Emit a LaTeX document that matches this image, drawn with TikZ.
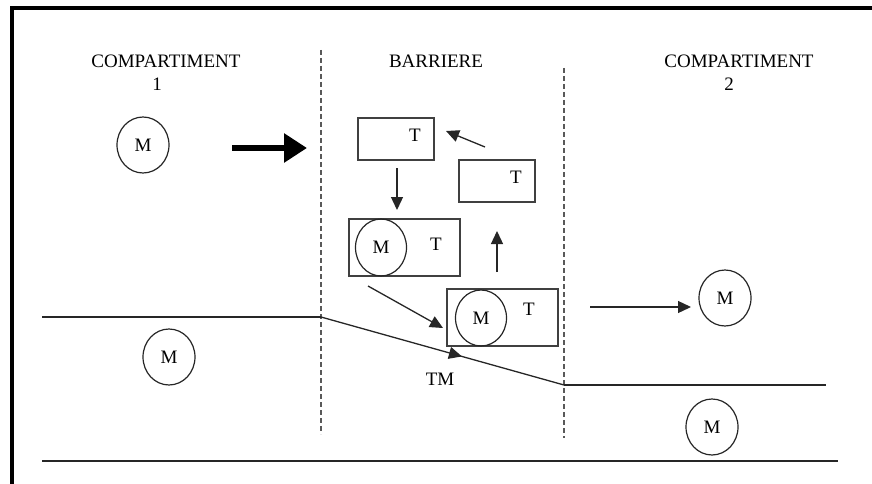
\documentclass[tikz,border=0pt]{standalone}
\usepackage{fontspec}
\setmainfont{Liberation Serif}
\usetikzlibrary{arrows.meta,shapes.geometric,decorations.markings}
\begin{document}
\begin{tikzpicture}[x=1pt,y=-1pt,
  every node/.style={font=\fontsize{19}{21}\selectfont, text=black},
  lbl/.style={anchor=base, inner sep=0pt},
  molc/.style={ellipse, draw=black!85, line width=1.2pt, minimum width=52pt, minimum height=56pt, inner sep=0pt},
  tbox/.style={rectangle, draw=black!75, line width=1.3pt, inner sep=0pt},
  thin/.style={draw=black!85, line width=1.3pt},
  arr/.style={thin, -{Triangle[length=13pt,width=12pt]}},
  sep/.style={draw=black!65, line width=1.3pt, dash pattern=on 5pt off 3pt},
  border/.style={draw=black, line width=3.5pt}
]
\useasboundingbox (0,0) rectangle (872,484);
% page border (left and top)
\draw[border] (12,484) -- (12,8) -- (872,8);
% separators
\draw[sep] (321,50) -- (321,434);
\draw[sep] (564,68) -- (564,438);
% titles
\node[lbl] (c1a) at (166,68) {COMPARTIMENT};
\node[lbl] (c1b) at (157,91) {1};
\node[lbl] (bar) at (436,68) {BARRIERE};
\node[lbl] (c2a) at (739,68) {COMPARTIMENT};
\node[lbl] (c2b) at (729,91) {2};
% molecules in compartments
\node[molc] (m1) at (143,145) {M};
\node[molc] (m2) at (169,357) {M};
\node[molc] (m3) at (725,298) {M};
\node[molc] (m4) at (712,427) {M};
% transporter boxes
\node[tbox, minimum width=76pt, minimum height=42pt] (t1) at (396,139) {};
\node[lbl] (t1t) at (415,142) {T};
\node[tbox, minimum width=76pt, minimum height=42pt] (t2) at (497,181) {};
\node[lbl] (t2t) at (516,183) {T};
\node[tbox, minimum width=111pt, minimum height=57pt] (mt1) at (404.5,247.5) {};
\node[molc, minimum width=51pt, minimum height=57pt] (mt1m) at (381,247.5) {M};
\node[lbl] (mt1t) at (436,250) {T};
\node[tbox, minimum width=111pt, minimum height=57pt] (mt2) at (502.5,317.5) {};
\node[molc, minimum width=51pt, minimum height=56pt] (mt2m) at (481,318) {M};
\node[lbl] (mt2t) at (529,315) {T};
\node[lbl] (tm) at (440,385) {TM};
% arrow end points
\coordinate (a0s) at (232,148); \coordinate (a0e) at (307,148);
\coordinate (a1s) at (485,147); \coordinate (a1e) at (446,131);
\coordinate (a2s) at (397,168); \coordinate (a2e) at (397,210);
\coordinate (a3s) at (497,272); \coordinate (a3e) at (497,231);
\coordinate (a4s) at (368,286); \coordinate (a4e) at (443,328);
\coordinate (a5s) at (590,307); \coordinate (a5e) at (691,307);
% arrows
\draw[draw=black, line width=6pt, -{Triangle[length=23pt,width=28pt]}] (a0s) -- (a0e);
\draw[arr] (a1s) -- (a1e);
\draw[arr] (a2s) -- (a2e);
\draw[arr] (a3s) -- (a3e);
\draw[arr] (a4s) -- (a4e);
\draw[arr] (a5s) -- (a5e);
% membrane lines
\coordinate (p1) at (42,317); \coordinate (p2) at (321,317);
\coordinate (p3) at (564,385); \coordinate (p4) at (826,385);
\draw[thin] (p1) -- (p2);
\draw[thin, postaction={decorate}, decoration={markings, mark=at position 0.58 with {\arrow{Triangle[length=13pt,width=12pt]}}}] (p2) -- (p3);
\draw[thin] (p3) -- (p4);
\coordinate (b1) at (42,461); \coordinate (b2) at (838,461);
\draw[thin] (b1) -- (b2);
\end{tikzpicture}
\end{document}
